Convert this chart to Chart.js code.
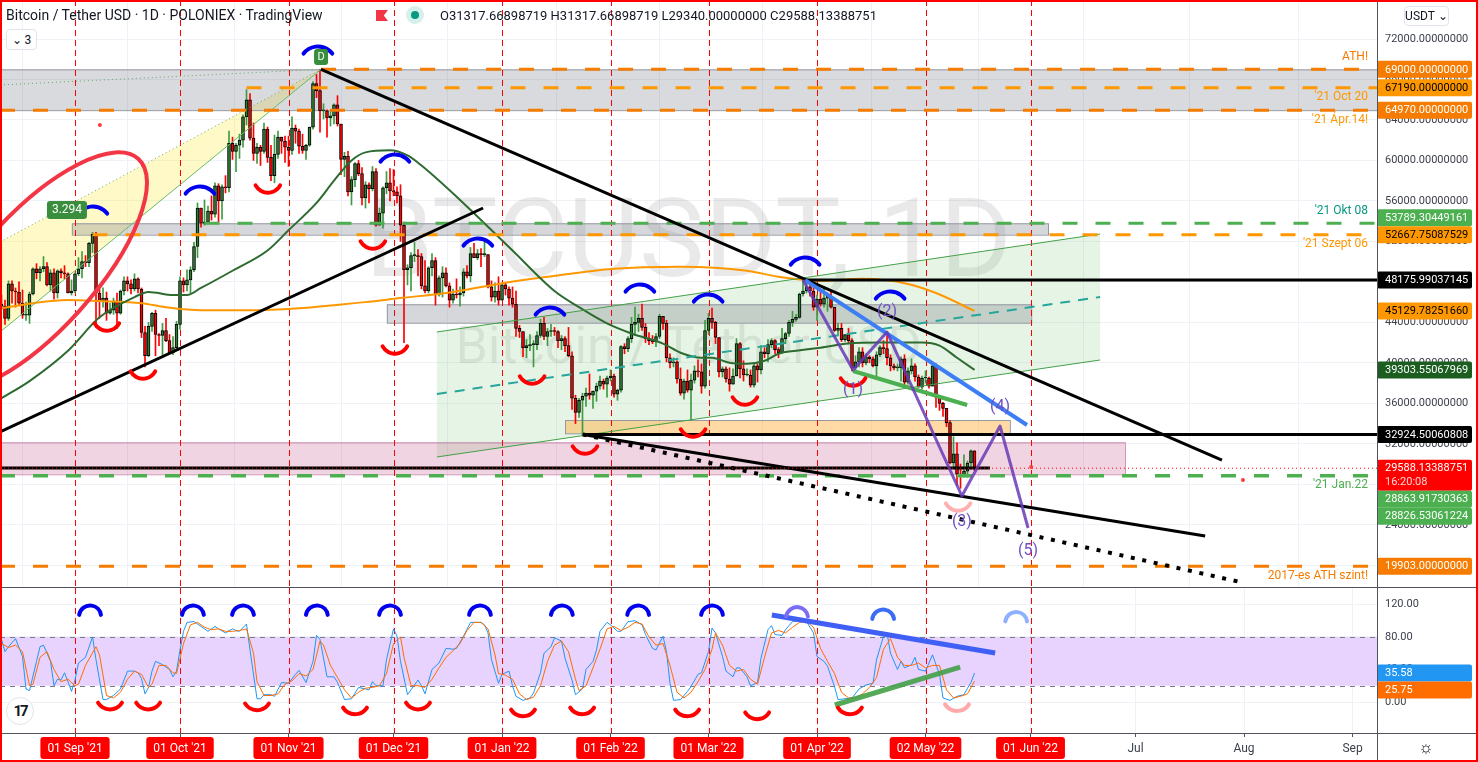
<!DOCTYPE html>
<html>
<head>
<meta charset="utf-8">
<title>BTCUSDT 1D - POLONIEX</title>
<script src="https://cdn.jsdelivr.net/npm/chart.js@4.4.1/dist/chart.umd.min.js"></script>
<style>
  html, body { margin: 0; padding: 0; background: #fff; }
  #wrap { position: relative; width: 1478px; height: 762px; overflow: hidden; background: #fff;
          font-family: Roboto, "Liberation Sans", Arial, sans-serif; color: #131722; }
  canvas { position: absolute; left: 0; }
  #main { top: 0; }
  #osc { top: 588px; }
  .line { position: absolute; background: #50535e; }
  .hdr { position: absolute; top: 7px; font-size: 14px; white-space: nowrap; }
  .flag { position: absolute; left: 376px; top: 10px; width: 12px; height: 11px; background: #f23645;
          clip-path: polygon(0 0, 100% 0, 65% 50%, 100% 100%, 0 100%); }
  .dot { position: absolute; left: 406px; top: 6px; width: 18px; height: 18px; border-radius: 50%; background: #d6f0ea; }
  .dot::after { content: ""; position: absolute; left: 5px; top: 5px; width: 8px; height: 8px; border-radius: 50%; background: #089981; }
  .btn { position: absolute; border: 1px solid #e0e3eb; border-radius: 4px; background: #fff; font-size: 12px;
         display: flex; align-items: center; justify-content: center; box-sizing: border-box; }
  .logo { position: absolute; left: 6px; top: 697px; width: 28px; height: 28px; border-radius: 50%;
          background: #fff; border: 1px solid #e0e3eb; font: bold 15px Roboto, sans-serif; letter-spacing: -2px;
          display: flex; align-items: center; justify-content: center; box-sizing: border-box; }
  .gear { position: absolute; left: 1416px; top: 737px; width: 20px; height: 20px; font-size: 17px; line-height: 20px; text-align: center; }
  #frame { position: absolute; left: 0; top: 0; width: 1478px; height: 762px; border: 2px solid #ff0000; box-sizing: border-box; pointer-events: none; }
</style>
</head>
<body>
<div id="wrap">
  <canvas id="main" width="1478" height="587"></canvas>
  <canvas id="osc" width="1478" height="174"></canvas>
  <div class="line" style="left:0;top:587px;width:1478px;height:1px"></div>
  <div class="line" style="left:0;top:733px;width:1478px;height:1px"></div>
  <div class="line" style="left:1377px;top:0;width:1px;height:762px"></div>

  <div class="hdr" style="left:6px">Bitcoin / Tether USD · 1D · POLONIEX · TradingView</div>
  <div class="flag"></div>
  <div class="dot"></div>
  <div class="hdr" style="left:440px;font-size:13px;top:8px">O31317.66898719 H31317.66898719 L29340.00000000 C29588.13388751</div>
  <div class="btn" style="left:6px;top:29px;width:31px;height:21px">&#8964;&nbsp;3</div>
  <div class="btn" style="left:1404px;top:6px;width:45px;height:20px">USDT&nbsp;&#8964;</div>
  <div class="logo">17</div>
  <div class="gear">&#9788;</div>
  <div id="frame"></div>
</div>

<script>
const FONT = 'Roboto, "Liberation Sans", Arial, sans-serif';

// day index 0 = 2021-08-11, one candle per day, prices in thousand USDT
const firstOpen = 45.8;
const dayClose = [
  45.6, 44.4, 47.8, 47.1, 47.0, 45.9, 44.7, 44.7, 46.8, 49.3,
  48.9, 49.3, 49.5, 47.7, 48.9, 46.9, 49.1, 48.9, 48.8, 46.9,
  47.1, 48.8, 49.3, 50.0, 49.9, 51.8, 52.7, 46.9, 46.1, 46.4,
  44.9, 45.2, 46.1, 44.9, 47.1, 48.1, 47.8, 47.3, 48.3, 47.3,
  43.0, 40.7, 43.6, 44.9, 42.8, 42.7, 43.2, 42.2, 41.0, 41.5,
  43.8, 48.1, 47.7, 48.2, 49.2, 51.5, 55.3, 53.8, 53.9, 55.0,
  54.7, 57.5, 56.0, 57.4, 57.3, 61.7, 60.9, 61.5, 62.0, 64.3,
  66.0, 62.2, 60.7, 61.3, 60.9, 63.1, 60.3, 58.5, 60.6, 62.3,
  61.9, 61.3, 61.0, 63.2, 62.9, 61.4, 61.0, 61.5, 63.3, 67.6,
  66.9, 64.9, 64.9, 64.2, 64.4, 65.5, 63.6, 60.1, 60.4, 56.9,
  58.1, 59.7, 58.7, 56.3, 57.6, 57.2, 58.9, 53.6, 54.8, 57.3,
  57.8, 57.0, 56.9, 56.5, 53.6, 49.2, 49.4, 50.6, 50.6, 50.5,
  47.6, 47.1, 49.4, 50.1, 46.7, 48.4, 48.9, 47.6, 46.2, 46.8,
  46.7, 46.9, 49.0, 48.6, 50.8, 50.4, 50.8, 50.7, 50.7, 47.5,
  46.5, 47.1, 46.2, 47.7, 47.3, 46.4, 45.8, 43.4, 43.1, 41.5,
  41.7, 41.8, 41.8, 42.7, 43.9, 42.6, 43.1, 43.2, 43.1, 42.2,
  42.4, 41.7, 40.7, 36.5, 35.1, 36.3, 36.7, 37.0, 36.8, 37.2,
  37.7, 38.2, 37.9, 38.5, 38.7, 36.9, 37.3, 41.6, 41.4, 42.4,
  43.8, 44.0, 44.4, 43.5, 42.4, 42.2, 42.1, 42.6, 44.6, 43.9,
  40.5, 40.0, 40.1, 38.4, 37.0, 38.2, 37.3, 38.3, 39.2, 39.1,
  37.7, 43.2, 44.4, 44.0, 42.5, 39.1, 39.4, 38.4, 37.9, 38.7,
  41.9, 39.4, 38.8, 38.8, 37.8, 39.7, 39.3, 41.1, 40.9, 41.8,
  42.2, 41.3, 41.0, 42.4, 42.9, 44.0, 44.3, 44.5, 46.8, 47.1,
  47.5, 47.1, 45.5, 46.3, 45.8, 46.4, 46.6, 45.5, 43.2, 43.4,
  42.3, 42.8, 42.2, 39.5, 40.1, 41.1, 40.0, 40.6, 40.4, 39.7,
  40.8, 41.5, 41.4, 40.5, 39.7, 39.5, 39.5, 40.4, 38.1, 39.2,
  39.7, 38.6, 37.6, 38.5, 38.5, 37.7, 39.7, 36.6, 36.0, 35.5,
  34.1, 30.1, 31.0, 29.0, 28.9, 29.3, 30.1, 31.3177, 29.58813
];
const dayHigh = [
  46.7, 46.2, 48.1, 48.1, 47.4, 48.0, 47.2, 46.0, 47.0, 49.4,
  49.8, 49.5, 50.5, 49.9, 49.2, 49.3, 49.2, 49.3, 49.6, 48.9,
  48.2, 48.9, 50.4, 51.0, 50.6, 51.9, 52.9, 52.9, 47.3, 47.4,
  47.0, 45.9, 46.4, 46.9, 47.2, 48.5, 48.5, 48.2, 48.8, 48.4,
  47.4, 43.6, 44.0, 45.0, 45.2, 42.9, 43.9, 44.4, 42.8, 42.6,
  44.1, 48.5, 48.4, 49.2, 49.5, 51.9, 55.8, 55.3, 56.1, 55.5,
  56.5, 57.8, 57.7, 57.6, 58.5, 62.9, 62.3, 61.7, 62.6, 64.5,
  67.0, 66.6, 63.7, 61.7, 61.5, 63.7, 63.3, 61.5, 62.5, 62.9,
  62.3, 62.4, 62.4, 64.3, 63.5, 63.1, 62.6, 61.6, 63.3, 67.8,
  68.5, 69.0, 65.6, 65.0, 64.9, 65.6, 66.4, 63.6, 60.8, 60.9,
  58.4, 59.8, 60.0, 59.3, 57.9, 57.8, 59.4, 59.2, 55.3, 57.4,
  58.9, 59.2, 59.1, 57.4, 57.6, 53.9, 49.7, 50.9, 51.9, 51.2,
  50.8, 50.1, 49.5, 50.8, 50.4, 48.6, 49.5, 49.4, 47.9, 47.3,
  48.3, 47.5, 49.3, 49.6, 51.4, 51.8, 51.2, 51.3, 52.1, 50.7,
  48.1, 47.9, 48.5, 47.9, 47.9, 47.5, 47.5, 47.1, 43.7, 43.1,
  42.3, 42.8, 42.2, 43.1, 44.3, 44.5, 43.4, 43.8, 43.5, 43.2,
  42.7, 42.6, 43.5, 41.1, 36.8, 36.5, 37.0, 37.5, 38.9, 37.2,
  38.0, 38.7, 38.4, 38.7, 39.3, 38.9, 37.4, 41.7, 41.9, 42.6,
  44.5, 45.5, 44.8, 45.8, 43.9, 43.0, 42.7, 42.9, 44.8, 44.6,
  44.2, 40.9, 40.5, 40.2, 39.5, 38.4, 39.3, 38.9, 39.7, 40.3,
  39.9, 44.2, 44.9, 45.4, 44.1, 42.5, 39.6, 39.6, 39.5, 39.4,
  42.4, 42.0, 40.2, 39.4, 39.3, 39.9, 39.9, 41.7, 41.5, 42.3,
  42.4, 42.3, 41.5, 43.4, 43.0, 44.2, 45.1, 44.8, 46.9, 48.2,
  48.1, 47.7, 47.6, 46.7, 47.2, 47.4, 46.9, 47.2, 45.5, 43.9,
  43.9, 42.8, 43.4, 42.4, 40.7, 41.5, 41.5, 40.9, 40.7, 40.6,
  41.1, 41.7, 42.2, 42.9, 40.8, 39.9, 39.9, 40.6, 40.8, 39.5,
  40.4, 39.9, 38.8, 38.7, 39.2, 38.6, 40.0, 39.9, 36.7, 36.1,
  35.5, 34.3, 32.7, 32.1, 30.0, 30.9, 30.3, 31.4, 31.3177
];
const dayLow = [
  45.3, 43.8, 44.2, 45.9, 45.5, 45.7, 44.4, 44.2, 43.9, 46.7,
  48.3, 48.1, 49.0, 47.6, 47.1, 46.3, 46.4, 48.4, 48.3, 46.9,
  46.7, 46.9, 48.6, 48.4, 49.5, 49.5, 50.9, 43.5, 44.4, 45.5,
  44.2, 44.8, 44.8, 43.4, 44.8, 46.7, 47.1, 46.8, 47.1, 46.9,
  42.5, 39.6, 40.6, 43.1, 40.7, 41.7, 40.8, 42.1, 40.9, 40.8,
  41.4, 43.3, 47.0, 47.1, 46.9, 49.0, 50.4, 53.4, 53.6, 53.7,
  54.1, 54.4, 53.9, 54.2, 56.8, 56.9, 60.1, 58.9, 60.2, 61.3,
  63.5, 62.0, 60.0, 59.7, 59.5, 60.7, 59.8, 58.0, 57.8, 60.2,
  60.7, 59.8, 59.4, 60.6, 61.7, 60.7, 60.7, 60.1, 61.4, 63.1,
  66.2, 62.8, 64.1, 62.3, 63.4, 63.6, 63.4, 58.6, 58.4, 56.5,
  55.6, 57.4, 58.5, 55.6, 55.3, 55.8, 57.0, 53.5, 53.6, 53.3,
  56.7, 56.0, 56.5, 55.8, 52.0, 42.0, 47.7, 47.1, 50.0, 48.6,
  47.3, 46.9, 46.9, 48.6, 45.7, 46.6, 46.5, 47.5, 45.5, 45.9,
  46.4, 45.6, 46.6, 48.4, 48.0, 50.4, 50.2, 49.5, 50.5, 47.4,
  46.1, 46.0, 45.7, 46.2, 46.7, 45.7, 45.5, 42.6, 42.5, 40.6,
  40.5, 41.2, 39.6, 41.3, 42.5, 42.3, 41.7, 42.6, 42.7, 41.5,
  41.3, 41.1, 40.6, 35.4, 34.0, 34.6, 32.9, 35.7, 36.4, 35.5,
  36.2, 37.4, 37.4, 36.6, 38.2, 36.6, 36.3, 37.1, 40.9, 41.1,
  42.0, 42.7, 43.1, 43.2, 42.0, 41.8, 41.9, 41.6, 42.4, 43.3,
  40.1, 39.5, 39.6, 38.0, 36.8, 36.4, 37.1, 34.3, 38.0, 38.6,
  37.0, 37.5, 42.8, 43.4, 41.9, 38.6, 38.6, 38.1, 37.2, 37.9,
  38.7, 38.5, 38.2, 38.7, 37.6, 37.6, 38.1, 38.9, 40.5, 40.1,
  41.5, 40.9, 40.5, 40.9, 41.9, 42.6, 43.6, 44.1, 44.4, 46.6,
  46.9, 46.6, 45.2, 44.2, 45.6, 45.5, 45.1, 45.4, 43.1, 42.7,
  42.1, 42.1, 42.0, 39.2, 39.3, 39.6, 39.6, 39.8, 40.0, 39.6,
  38.5, 40.6, 40.9, 39.8, 39.2, 39.3, 39.2, 38.2, 37.7, 37.9,
  38.9, 38.2, 37.6, 37.4, 38.0, 37.5, 37.7, 35.6, 35.3, 34.7,
  33.7, 30.0, 29.7, 27.9, 27.6, 28.7, 28.7, 29.5, 29.34
];

// moving averages: [day, thousand USDT]
const fastMA = [
  [0, 36.5], [8, 38.2], [19, 41.2], [28, 44.5], [38, 46.5], [42, 47.0], [49, 46.7], [53, 46.7],
  [57, 47.4], [66, 49.1], [76, 51.1], [82, 53.1], [90, 55.8], [95, 58.0], [100, 60.0], [104, 60.8],
  [111, 61.0], [116, 60.5], [120, 59.5], [131, 56.1], [146, 51.1], [158, 47.1], [165, 45.5],
  [173, 43.9], [180, 42.9], [189, 41.9], [194, 41.0], [200, 40.5], [203, 40.5], [208, 40.0],
  [213, 39.9], [218, 40.2], [222, 40.9], [227, 41.2], [234, 41.5], [242, 41.9], [251, 42.0],
  [263, 42.0], [268, 41.7], [273, 40.5], [278, 39.3]
];
const slowMA = [
  [0, 45.4], [9, 45.9], [19, 46.2], [28, 46.1], [40, 45.9], [47, 45.5], [57, 45.2], [71, 45.2],
  [85, 45.4], [95, 45.7], [104, 46.0], [114, 46.4], [127, 46.9], [142, 47.8], [156, 48.5],
  [175, 49.3], [194, 49.5], [213, 49.1], [222, 48.5], [234, 48.1], [246, 48.3], [259, 47.8],
  [267, 46.9], [278, 45.13]
];

// Stoch RSI: [day, value]
const stochK = [
  [0,77],[1,62],[2,68],[4,78],[6,56],[7,16],[8,14],[10,50],[11,68],[12,70],[14,50],[15,20],[16,28],[17,27],
  [18,36],[19,25],[20,13],[21,27],[22,48],[24,55],[26,80],[27,52],[29,3],[30,3],[32,8],[34,16],[36,38],
  [38,38],[39,36],[40,29],[41,10],[42,18],[43,38],[44,50],[46,46],[48,40],[49,31],[50,38],[51,64],[52,87],
  [53,98],[55,99],[57,93],[59,87],[61,93],[62,90],[64,85],[66,90],[67,88],[68,87],[70,96],[71,64],[73,4],
  [74,4],[75,9],[77,9],[78,7],[80,24],[82,23],[84,34],[85,39],[87,24],[89,50],[90,82],[91,77],[93,31],
  [95,31],[96,24],[98,3],[100,4],[102,18],[104,16],[105,15],[106,25],[107,20],[109,20],[110,52],[112,90],
  [113,81],[114,50],[116,9],[117,15],[119,27],[120,20],[121,10],[123,40],[125,48],[127,66],[129,65],
  [130,66],[132,81],[134,98],[137,98],[138,95],[139,85],[140,52],[142,23],[143,34],[145,38],[146,20],
  [147,7],[149,2],[151,5],[152,11],[154,36],[155,60],[157,68],[158,79],[160,75],[161,54],[163,27],[164,9],
  [166,16],[167,40],[169,50],[170,64],[171,87],[173,98],[174,95],[176,87],[177,87],[179,99],[181,100],
  [183,95],[184,83],[186,66],[187,64],[189,81],[190,62],[191,23],[192,2],[194,3],[196,13],[197,19],
  [199,34],[200,36],[202,62],[203,91],[204,85],[206,56],[207,38],[209,31],[210,42],[211,42],[213,31],
  [214,20],[216,24],[217,54],[219,89],[220,94],[221,83],[223,82],[224,89],[226,99],[228,100],[230,99],
  [232,85],[233,56],[235,50],[236,44],[238,19],[239,3],[241,4],[243,5],[245,16],[247,21],[249,23],
  [250,52],[252,81],[253,85],[254,60],[256,40],[257,50],[258,42],[260,46],[261,55],[262,40],[264,38],
  [266,58],[268,34],[269,5],[271,2],[273,7],[275,9],[276,17],[277,24],[278,35.58]
];
const stochD = [
  [0,72],[2,67],[4,70],[6,62],[8,20],[9,22],[11,55],[13,62],[15,40],[17,25],[19,28],[21,20],[22,22],
  [24,45],[27,68],[28,58],[30,8],[32,5],[34,12],[36,28],[38,38],[40,34],[42,18],[43,22],[45,45],[47,45],
  [49,36],[50,35],[52,72],[54,95],[56,98],[58,92],[60,89],[62,90],[64,87],[66,87],[68,88],[70,90],
  [72,60],[73,25],[75,8],[77,8],[79,10],[81,22],[83,26],[85,35],[87,32],[89,40],[91,75],[92,70],[94,45],
  [96,30],[98,15],[100,5],[102,12],[104,17],[106,18],[108,20],[110,35],[112,72],[114,80],[115,55],
  [117,20],[119,20],[121,18],[123,28],[125,42],[127,55],[129,63],[131,72],[133,88],[135,98],[137,98],
  [139,90],[141,58],[142,35],[144,33],[146,28],[148,10],[150,3],[152,6],[154,20],[156,50],[158,70],
  [160,75],[162,62],[164,28],[165,14],[167,20],[169,42],[171,65],[173,90],[175,93],[177,88],[179,92],
  [181,98],[183,96],[185,80],[187,70],[189,72],[191,45],[193,12],[195,5],[197,12],[199,25],[201,40],
  [203,65],[204,85],[206,70],[208,45],[210,38],[212,40],[214,28],[216,22],[218,55],[220,85],[222,88],
  [224,85],[226,92],[228,98],[230,99],[232,92],[234,66],[236,50],[238,35],[240,12],[242,5],[244,5],
  [246,10],[248,18],[250,30],[252,65],[254,78],[256,55],[258,45],[260,45],[262,48],[264,42],[266,45],
  [268,45],[270,15],[272,5],[274,7],[276,10],[278,25.75]
];

const monthTickDays = [21, 51, 82, 112, 143, 174, 202, 233, 264, 294, 324, 355, 386];
const monthTickLabels = ["01 Sep '21", "01 Oct '21", "01 Nov '21", "01 Dec '21", "01 Jan '22", "01 Feb '22",
  "01 Mar '22", "01 Apr '22", "02 May '22", "01 Jun '22", "Jul", "Aug", "Sep"];
const MARKED = 10; // month lines drawn in red
const priceTicks = [20000, 24000, 28000, 32000, 36000, 40000, 44000, 48000, 52000, 56000, 60000, 64000, 68000, 72000];
const stochTicks = [0, 40, 80, 120];

// ---- visible ranges ----
const X_MIN = -0.43, X_MAX = 393;
const Y_MIN = 17850, Y_MAX = 75854;
const S_MIN = -38.15, S_MAX = 140.3;

// ---- drawings (day, price) ----
const zones = [
  { d1: X_MIN, d2: X_MAX, hi: 69000, lo: 64970, fill: 'rgba(120,123,134,0.28)', stroke: '#9598a1' },
  { d1: 20.1, d2: 299, hi: 53789.3, lo: 52667.75, fill: 'rgba(120,123,134,0.3)', stroke: '#9598a1' },
  { d1: 110.1, d2: 294.2, hi: 45785, lo: 43966, fill: 'rgba(120,123,134,0.3)', stroke: '#9598a1' },
  { d1: X_MIN, d2: 321, hi: 32148, lo: 28986, fill: 'rgba(180,40,110,0.2)', stroke: 'rgba(190,110,155,0.7)' },
  { d1: 161, d2: 288.1, hi: 34352, lo: 33038, fill: 'rgba(255,167,38,0.42)', stroke: '#9598a1' }
];
const channel = { d1: 124.4, d2: 313.9, top: [43047, 52731], bottom: [30696, 40281], mid: [36921, 46506] };
const wedge = { apex: [91.3, 69000], upper: 51941, lower: 43047, flat: 67455 };

const levels = [
  { v: 69000, from: 91.3, color: '#f57c00', label: 'ATH!', above: true },
  { v: 67190, from: 70, color: '#ff9800', label: "'21 Oct 20" },
  { v: 64970, from: X_MIN, color: '#f57c00', label: "'21 Ápr.14!", labelColor: '#ff9800' },
  { v: 53789.30449161, from: 58, color: '#4caf50', label: "'21 Okt 08", above: true, labelColor: '#089981' },
  { v: 52667.75087529, from: 26, color: '#ff9800', label: "'21 Szept 06" },
  { v: 28863.91730363, from: X_MIN, color: '#4caf50' },
  { v: 28826.53061224, from: X_MIN, color: '#4caf50', label: "'21 Jan.22" },
  { v: 19903, from: X_MIN, color: '#f57c00', label: '2017-es ATH szint!' }
];

const trendLines = [
  { a: [91.3, 69000], b: [348.7, 30399], color: '#000', w: 3 },
  { a: [X_MIN, 33166], b: [137.6, 55300], color: '#000', w: 3 },
  { a: [166.1, 32924.5], b: [343.9, 22889], color: '#000', w: 3 },
  { a: [166.1, 32924.5], b: [353.9, 18344], color: '#000', w: 4, dash: [4, 7.7] },
  { a: [229.6, 48175.99], b: [X_MAX, 48175.99], color: '#000', w: 3 },
  { a: [166.1, 32924.5], b: [X_MAX, 32924.5], color: '#000', w: 3 },
  { a: [X_MIN, 29600], b: [282.4, 29600], color: '#000', w: 3 },
  { a: [229.6, 48175.99], b: [293, 33858], color: '#3d7ef5', w: 4 },
  { a: [243.3, 39194], b: [275.9, 35834], color: '#4caf50', w: 4 }
];
const wavePath = [[229, 48176], [243.3, 39292], [253, 43047], [274.4, 26842], [285.3, 33759], [293.3, 23680]];
const waveLabels = [['(1)', 243.3, 37316], ['(2)', 253, 45024], ['(3)', 274.4, 24300], ['(4)', 285.3, 35636], ['(5)', 293.3, 21407]];

const topArcs = [
  [26.1, 55103], [56.7, 57079], [90.4, 70913], [112.4, 60241], [136.1, 51941],
  [156.7, 45123], [182.4, 47395], [201.9, 46407], [229.6, 50063], [253.9, 46704]
];
const bottomArcs = [
  [76.1, 57178], [40.4, 38798], [30.1, 43542], [106.1, 51644], [112.4, 41269],
  [151.6, 38304], [166.7, 31387], [197.6, 33067], [212.4, 36229], [243.3, 38107]
];
const fadedBottomArc = [273.3, 25750];
const dots = [[28.1, 63502], [294.2, 29708], [354.7, 28423]];

const priceTags = [
  { v: 69000, bg: '#f57c00', fg: '#fff' },
  { v: 67190, bg: '#ff9800', fg: '#000' },
  { v: 64970, bg: '#f57c00', fg: '#fff' },
  { v: 53789.30449161, bg: '#4caf50', fg: '#fff', dy: -5.5 },
  { v: 52667.75087529, bg: '#ff9800', fg: '#000' },
  { v: 48175.99037145, bg: '#000', fg: '#fff' },
  { v: 45129.7825166, bg: '#ff9800', fg: '#000' },
  { v: 39303.55067969, bg: '#1b5e20', fg: '#fff' },
  { v: 32924.50060808, bg: '#000', fg: '#fff' },
  { v: 29588.13388751, bg: '#ff0000', fg: '#fff', sub: '16:20:08', subFg: '#ffd6d6' },
  { v: 28863.91730363, bg: '#4caf50', fg: '#fff' },
  { v: 28826.53061224, bg: '#4caf50', fg: '#fff' },
  { v: 19903, bg: '#f57c00', fg: '#fff' }
];

// lower pane drawings (day, stoch value)
const oscTopArcs = [
  [25.3, 113, '#0000ee'], [54.7, 113, '#0000ee'], [69, 113, '#0000ee'], [90.1, 113, '#0000ee'],
  [111, 113, '#0000ee'], [136.7, 113, '#0000ee'], [160.1, 113, '#0000ee'], [181.9, 113, '#0000ee'],
  [203, 113, '#0000ee'], [227.3, 111, '#7b6cf6'], [251.9, 108, '#3b6cf6'], [289.9, 105, '#8fb0ff']
];
const oscBottomArcs = [
  [31, -5, '#ff0000'], [41.9, -5, '#ff0000'], [73, -6, '#ff0000'], [101, -11, '#ff0000'], [119, -5, '#ff0000'],
  [149, -13.5, '#ff0000'], [165.9, -11, '#ff0000'], [195.9, -13.5, '#ff0000'], [215.9, -17, '#ff0000'],
  [242.4, -11, '#ff0000'], [273, -7, '#ffaaaa']
];
const oscLines = [
  { a: [220.1, 107], b: [283.9, 60.3], color: '#4060f5', w: 5 },
  { a: [238.1, -3.7], b: [273.9, 43], color: 'rgba(67,160,71,0.9)', w: 5 }
];
const oscTags = [
  { v: 35.58, bg: '#2196f3', fg: '#fff' },
  { v: 25.75, bg: '#ff6d00', fg: '#fff' }
];

// ---- helpers ----
function rr(ctx, x, y, w, h, r) {
  ctx.beginPath();
  if (ctx.roundRect) ctx.roundRect(x, y, w, h, r); else ctx.rect(x, y, w, h);
}
function seg(ctx, x1, y1, x2, y2, color, width, dash) {
  ctx.beginPath();
  ctx.setLineDash(dash || []);
  ctx.moveTo(x1, y1); ctx.lineTo(x2, y2);
  ctx.strokeStyle = color; ctx.lineWidth = width; ctx.stroke();
  ctx.setLineDash([]);
}
function clipped(chart, fn) {
  const { ctx, chartArea: a } = chart;
  ctx.save();
  ctx.beginPath(); ctx.rect(a.left, a.top, a.right - a.left, a.bottom - a.top); ctx.clip();
  fn(ctx, a);
  ctx.restore();
}
function redMonthLines(chart) {
  clipped(chart, (ctx, a) => {
    for (let i = 0; i < MARKED; i++) {
      const x = Math.round(chart.scales.x.getPixelForValue(monthTickDays[i])) + 0.5;
      seg(ctx, x, a.top, x, a.bottom, '#ff0000', 1, [6, 4]);
    }
  });
}
function arc(ctx, x, y, r, ang, up, color, w) {
  const off = r * (1 + Math.sin(ang)) / 2;
  ctx.beginPath();
  if (up) ctx.arc(x, y + off, r, Math.PI + ang, 2 * Math.PI - ang);
  else ctx.arc(x, y - off, r, ang, Math.PI - ang);
  ctx.strokeStyle = color; ctx.lineWidth = w; ctx.lineCap = 'round'; ctx.stroke();
  ctx.lineCap = 'butt';
}
function drawTags(chart, tags, digits) {
  const { ctx, chartArea: a } = chart;
  const ys = chart.scales.y;
  const items = tags.map(t => ({ ...t, h: t.sub ? 31 : 17, top: ys.getPixelForValue(t.v) + (t.dy || 0) - 8.5 }))
    .sort((p, q) => p.top - q.top);
  let prev = -Infinity;
  ctx.save();
  ctx.font = `11px ${FONT}`; ctx.textAlign = 'left'; ctx.textBaseline = 'middle';
  for (const t of items) {
    if (t.top < prev) t.top = prev;
    prev = t.top + t.h;
    ctx.fillStyle = t.bg; rr(ctx, a.right, t.top, 95, t.h, 2); ctx.fill();
    ctx.fillStyle = t.fg; ctx.fillText(t.v.toFixed(digits), a.right + 8, t.top + 9);
    if (t.sub) { ctx.fillStyle = t.subFg; ctx.fillText(t.sub, a.right + 8, t.top + 23); }
  }
  ctx.restore();
}

// ---- candles ----
const bodies = [], wicks = [], bodyColors = [], wickColors = [];
dayClose.forEach((c, i) => {
  const o = i === 0 ? firstOpen : dayClose[i - 1];
  const up = c >= o;
  bodies.push({ x: i, y: [o * 1000, c * 1000] });
  wicks.push({ x: i, y: [dayLow[i] * 1000, dayHigh[i] * 1000] });
  bodyColors.push(up ? '#2e7d32' : '#ff0000');
  wickColors.push(up ? '#3f9a43' : '#ff0000');
});
const toPts = (arr, k) => arr.map(([d, v]) => ({ x: d, y: v * k }));

const mainDecor = {
  id: 'mainDecor',
  beforeDatasetsDraw(chart) {
    const X = d => chart.scales.x.getPixelForValue(d);
    const Y = v => chart.scales.y.getPixelForValue(v);
    clipped(chart, (ctx, a) => {
      const cx = (a.left + a.right) / 2;
      ctx.fillStyle = 'rgba(0,0,0,0.085)';
      ctx.textAlign = 'center'; ctx.textBaseline = 'middle';
      ctx.font = `110px ${FONT}`; ctx.fillText('BTCUSDT, 1D', cx, 248);
      ctx.font = `52px ${FONT}`; ctx.fillText('Bitcoin / Tether USD', cx, 350);

      // yellow wedge
      ctx.beginPath();
      ctx.moveTo(X(wedge.apex[0]), Y(wedge.apex[1]));
      ctx.lineTo(X(X_MIN), Y(wedge.upper));
      ctx.lineTo(X(X_MIN), Y(wedge.lower));
      ctx.closePath();
      ctx.fillStyle = 'rgba(255,235,59,0.28)'; ctx.fill();

      // channel
      const c = channel;
      ctx.beginPath();
      ctx.moveTo(X(c.d1), Y(c.top[0])); ctx.lineTo(X(c.d2), Y(c.top[1]));
      ctx.lineTo(X(c.d2), Y(c.bottom[1])); ctx.lineTo(X(c.d1), Y(c.bottom[0]));
      ctx.closePath();
      ctx.fillStyle = 'rgba(76,175,80,0.14)'; ctx.fill();

      for (const z of zones) {
        const x1 = X(z.d1), x2 = X(z.d2), y1 = Y(z.hi), y2 = Y(z.lo);
        ctx.fillStyle = z.fill; ctx.fillRect(x1, y1, x2 - x1, y2 - y1);
        ctx.strokeStyle = z.stroke; ctx.lineWidth = 1; ctx.strokeRect(x1 + 0.5, y1 + 0.5, x2 - x1, y2 - y1);
      }
    });
    redMonthLines(chart);
  },
  afterDatasetsDraw(chart) {
    const X = d => chart.scales.x.getPixelForValue(d);
    const Y = v => chart.scales.y.getPixelForValue(v);
    clipped(chart, (ctx, a) => {
      const c = channel;
      seg(ctx, X(c.d1), Y(c.top[0]), X(c.d2), Y(c.top[1]), '#43a047', 1);
      seg(ctx, X(c.d1), Y(c.bottom[0]), X(c.d2), Y(c.bottom[1]), '#43a047', 1);
      seg(ctx, X(c.d1), Y(c.mid[0]), X(c.d2), Y(c.mid[1]), '#26a69a', 2, [10, 8]);

      const ax = X(wedge.apex[0]), ay = Y(wedge.apex[1]);
      seg(ctx, X(X_MIN), Y(wedge.upper), ax, ay, '#66a66a', 1, [1, 3]);
      seg(ctx, X(X_MIN), Y(wedge.lower), ax, ay, '#66bb6a', 1);
      seg(ctx, X(X_MIN), Y(wedge.flat), ax, ay, '#66a66a', 1, [1, 3]);

      for (const l of levels) {
        const y = Y(l.v);
        seg(ctx, X(l.from), y, a.right, y, l.color, 3, [15, 18]);
        if (l.label) {
          ctx.font = `12px ${FONT}`; ctx.textAlign = 'right'; ctx.textBaseline = 'middle';
          ctx.fillStyle = l.labelColor || l.color;
          ctx.fillText(l.label, a.right - 9, y + (l.above ? -12 : 9.5));
        }
      }
      for (const t of trendLines) seg(ctx, X(t.a[0]), Y(t.a[1]), X(t.b[0]), Y(t.b[1]), t.color, t.w, t.dash);

      ctx.beginPath();
      wavePath.forEach(([d, v], i) => i ? ctx.lineTo(X(d), Y(v)) : ctx.moveTo(X(d), Y(v)));
      ctx.strokeStyle = 'rgba(103,58,183,0.85)'; ctx.lineWidth = 3; ctx.lineJoin = 'round'; ctx.stroke();

      // current price line
      const py = Y(29588.13388751);
      seg(ctx, a.left, py, a.right, py, '#ff0000', 1, [1, 3]);

      for (const [d, v] of topArcs) arc(ctx, X(d), Y(v), 18, 0.65, true, '#0000ee', 4);
      for (const [d, v] of bottomArcs) arc(ctx, X(d), Y(v), 14, 0.5, false, '#ff0000', 4);
      arc(ctx, X(fadedBottomArc[0]), Y(fadedBottomArc[1]), 14, 0.5, false, '#ffb0b0', 4);

      ctx.font = `16px ${FONT}`; ctx.textAlign = 'center'; ctx.textBaseline = 'middle';
      ctx.fillStyle = '#6f4fc4';
      for (const [txt, d, v] of waveLabels) ctx.fillText(txt, X(d), Y(v));

      // hand drawn ellipse
      ctx.beginPath();
      ctx.ellipse(X(10), Y(49000), 152, 58, -48 * Math.PI / 180, 0, 2 * Math.PI);
      ctx.strokeStyle = '#f23645'; ctx.lineWidth = 4; ctx.stroke();

      ctx.fillStyle = '#ff3b3b';
      for (const [d, v] of dots) { ctx.beginPath(); ctx.arc(X(d), Y(v), 2, 0, 2 * Math.PI); ctx.fill(); }

      // small labels
      ctx.fillStyle = '#388e3c'; rr(ctx, X(18.7) - 20, Y(55103) - 9, 40, 18, 3); ctx.fill();
      ctx.fillStyle = '#fff'; ctx.font = `12px ${FONT}`; ctx.fillText('3.294', X(18.7), Y(55103));
      ctx.fillStyle = '#388e3c'; rr(ctx, X(91.3) - 7, Y(70221) - 8, 14, 16, 3); ctx.fill();
      ctx.fillStyle = '#fff'; ctx.font = `11px ${FONT}`; ctx.fillText('D', X(91.3), Y(70221));
    });
  },
  afterDraw(chart) { drawTags(chart, priceTags, 8); }
};

const oscDecor = {
  id: 'oscDecor',
  beforeDraw(chart) {
    const { ctx } = chart;
    const xs = chart.scales.x;
    ctx.save();
    ctx.font = `12px ${FONT}`;
    for (let i = 0; i < MARKED; i++) {
      const x = xs.getPixelForValue(monthTickDays[i]);
      const w = ctx.measureText(monthTickLabels[i]).width + 14;
      ctx.fillStyle = '#ff0000'; rr(ctx, x - w / 2, 149, w, 22, 3); ctx.fill();
    }
    ctx.restore();
  },
  beforeDatasetsDraw(chart) {
    const Y = v => chart.scales.y.getPixelForValue(v);
    clipped(chart, (ctx, a) => {
      ctx.fillStyle = 'rgb(232,210,254)';
      ctx.fillRect(a.left, Y(80), a.right - a.left, Y(20) - Y(80));
      seg(ctx, a.left, Math.round(Y(80)) + 0.5, a.right, Math.round(Y(80)) + 0.5, '#787b86', 1, [5, 5]);
      seg(ctx, a.left, Math.round(Y(20)) + 0.5, a.right, Math.round(Y(20)) + 0.5, '#787b86', 1, [5, 5]);
    });
    redMonthLines(chart);
  },
  afterDatasetsDraw(chart) {
    const X = d => chart.scales.x.getPixelForValue(d);
    const Y = v => chart.scales.y.getPixelForValue(v);
    clipped(chart, (ctx) => {
      for (const l of oscLines) seg(ctx, X(l.a[0]), Y(l.a[1]), X(l.b[0]), Y(l.b[1]), l.color, l.w);
      for (const [d, v, col] of oscTopArcs) arc(ctx, X(d), Y(v), 11, 0.15, true, col, 4);
      for (const [d, v, col] of oscBottomArcs) arc(ctx, X(d), Y(v), 14, 0.55, false, col, 4);
    });
  },
  afterDraw(chart) { drawTags(chart, oscTags, 2); }
};

const GRID = '#eef1f6';
const monthTicks = s => { s.ticks = monthTickDays.map(v => ({ value: v })); };

new Chart(document.getElementById('main'), {
  type: 'bar',
  data: {
    datasets: [
      { type: 'line', data: toPts(fastMA, 1000), borderColor: '#2e6b30', borderWidth: 2, pointRadius: 0,
        cubicInterpolationMode: 'monotone', order: -2 },
      { type: 'line', data: toPts(slowMA, 1000), borderColor: '#ff9800', borderWidth: 2, pointRadius: 0,
        cubicInterpolationMode: 'monotone', order: -1 },
      { data: bodies, backgroundColor: bodyColors, borderColor: '#000', borderWidth: 1, borderSkipped: false,
        barThickness: 3, minBarLength: 1, grouped: false, order: 1 },
      { data: wicks, backgroundColor: wickColors, barThickness: 1, grouped: false, order: 2 }
    ]
  },
  options: {
    responsive: false, animation: false, events: [],
    layout: { padding: 0 },
    plugins: { legend: { display: false }, tooltip: { enabled: false } },
    scales: {
      x: { type: 'linear', min: X_MIN, max: X_MAX, offset: false,
           afterBuildTicks: monthTicks,
           afterFit: s => { s.height = 0; s.paddingLeft = 0; s.paddingRight = 0; },
           ticks: { display: false }, grid: { color: GRID, drawTicks: false }, border: { display: false } },
      y: { type: 'linear', position: 'right', min: Y_MIN, max: Y_MAX,
           afterBuildTicks: s => { s.ticks = priceTicks.map(v => ({ value: v })); },
           afterFit: s => { s.width = 101; s.paddingTop = 0; s.paddingBottom = 0; },
           ticks: { padding: 8, color: '#3b3f4a', font: { size: 11, family: FONT }, callback: v => v.toFixed(8) },
           grid: { color: GRID, drawTicks: false }, border: { display: false } }
    }
  },
  plugins: [mainDecor]
});

new Chart(document.getElementById('osc'), {
  type: 'line',
  data: {
    datasets: [
      { data: toPts(stochD, 1), borderColor: '#ff6d00', borderWidth: 1, pointRadius: 0 },
      { data: toPts(stochK, 1), borderColor: '#2196f3', borderWidth: 1, pointRadius: 0 }
    ]
  },
  options: {
    responsive: false, animation: false, events: [],
    layout: { padding: 0 },
    plugins: { legend: { display: false }, tooltip: { enabled: false } },
    scales: {
      x: { type: 'linear', min: X_MIN, max: X_MAX, offset: false,
           afterBuildTicks: monthTicks,
           afterFit: s => { s.height = 29; s.paddingLeft = 0; s.paddingRight = 0; },
           ticks: { autoSkip: false, maxRotation: 0, padding: 5, font: { size: 12, family: FONT },
                    color: c => c.index < MARKED ? '#ffffff' : '#3b3f4a',
                    callback: (v, i) => monthTickLabels[i] },
           grid: { color: GRID, drawTicks: true, tickLength: 4, tickColor: '#50535e' }, border: { display: false } },
      y: { type: 'linear', position: 'right', min: S_MIN, max: S_MAX,
           afterBuildTicks: s => { s.ticks = stochTicks.map(v => ({ value: v })); },
           afterFit: s => { s.width = 101; s.paddingTop = 0; s.paddingBottom = 0; },
           ticks: { padding: 8, color: '#3b3f4a', font: { size: 11, family: FONT }, callback: v => v.toFixed(2) },
           grid: { color: GRID, drawTicks: false }, border: { display: false } }
    }
  },
  plugins: [oscDecor]
});
</script>
</body>
</html>
